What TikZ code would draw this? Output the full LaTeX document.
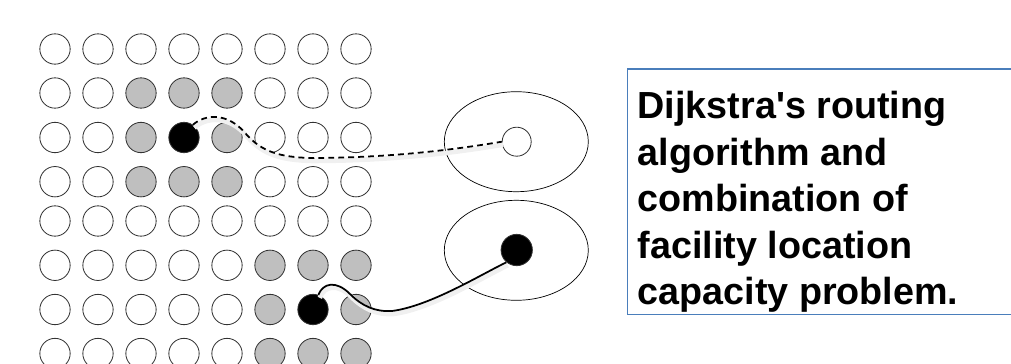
\documentclass[tikz,border=0pt]{standalone}
\usepackage{fontspec}
\newfontfamily\capfont{Liberation Sans}
\usepackage{tikz}
\definecolor{boxblue}{HTML}{4A7EBB}

\begin{document}
\begin{tikzpicture}[x=0.03cm,y=0.03cm]
\tikzstyle{every node}+=[inner sep=0pt]
\tikzstyle{site}=[circle, draw=black!80, line width=0.7pt, minimum size=0.91cm]
\tikzstyle{busy}=[site, fill=black!25]
\tikzstyle{hub}=[site, fill=black]
\tikzstyle{route}=[black, line width=1.5pt, preaction={draw=black!6, solid, line width=4pt, transform canvas={shift={(1.2pt,-2.5pt)}}}]
\clip (0,0) rectangle (1011,-363);
% grid of sites, row 1
\node [site] (c11) at (55,-49) {};
\node [site] (c12) at (98,-49) {};
\node [site] (c13) at (141,-49) {};
\node [site] (c14) at (184,-49) {};
\node [site] (c15) at (227,-49) {};
\node [site] (c16) at (270,-49) {};
\node [site] (c17) at (313,-49) {};
\node [site] (c18) at (356,-49) {};
% row 2
\node [site] (c21) at (55,-93) {};
\node [site] (c22) at (98,-93) {};
\node [busy] (c23) at (141,-93) {};
\node [busy] (c24) at (184,-93) {};
\node [busy] (c25) at (227,-93) {};
\node [site] (c26) at (270,-93) {};
\node [site] (c27) at (313,-93) {};
\node [site] (c28) at (356,-93) {};
% row 3
\node [site] (c31) at (55,-137.5) {};
\node [site] (c32) at (98,-137.5) {};
\node [busy] (c33) at (141,-137.5) {};
\node [hub] (c34) at (184,-137.5) {};
\node [busy] (c35) at (227,-137.5) {};
\node [site] (c36) at (270,-137.5) {};
\node [site] (c37) at (313,-137.5) {};
\node [site] (c38) at (356,-137.5) {};
% row 4
\node [site] (c41) at (55,-181.7) {};
\node [site] (c42) at (98,-181.7) {};
\node [busy] (c43) at (141,-181.7) {};
\node [busy] (c44) at (184,-181.7) {};
\node [busy] (c45) at (227,-181.7) {};
\node [site] (c46) at (270,-181.7) {};
\node [site] (c47) at (313,-181.7) {};
\node [site] (c48) at (356,-181.7) {};
% row 5
\node [site] (c51) at (55,-221) {};
\node [site] (c52) at (98,-221) {};
\node [site] (c53) at (141,-221) {};
\node [site] (c54) at (184,-221) {};
\node [site] (c55) at (227,-221) {};
\node [site] (c56) at (270,-221) {};
\node [site] (c57) at (313,-221) {};
\node [site] (c58) at (356,-221) {};
% row 6
\node [site] (c61) at (55,-265.3) {};
\node [site] (c62) at (98,-265.3) {};
\node [site] (c63) at (141,-265.3) {};
\node [site] (c64) at (184,-265.3) {};
\node [site] (c65) at (227,-265.3) {};
\node [busy] (c66) at (270,-265.3) {};
\node [busy] (c67) at (313,-265.3) {};
\node [busy] (c68) at (356,-265.3) {};
% row 7
\node [site] (c71) at (55,-309.5) {};
\node [site] (c72) at (98,-309.5) {};
\node [site] (c73) at (141,-309.5) {};
\node [site] (c74) at (184,-309.5) {};
\node [site] (c75) at (227,-309.5) {};
\node [busy] (c76) at (270,-309.5) {};
\node [hub] (c77) at (313,-309.5) {};
\node [busy] (c78) at (356,-309.5) {};
% row 8
\node [site] (c81) at (55,-353.5) {};
\node [site] (c82) at (98,-353.5) {};
\node [site] (c83) at (141,-353.5) {};
\node [site] (c84) at (184,-353.5) {};
\node [site] (c85) at (227,-353.5) {};
\node [busy] (c86) at (270,-353.5) {};
\node [busy] (c87) at (313,-353.5) {};
\node [busy] (c88) at (356,-353.5) {};
% the two regions
\draw [black, line width=0.6pt] (516.3,-141.7) ellipse (72 and 50);
\draw [black, line width=0.6pt] (516.3,-250.3) ellipse (72 and 50);
\node [site, minimum size=0.87cm] (sinkA) at (516.7,-141.7) {};
\node [hub, minimum size=0.94cm] (sinkB) at (516.7,-250) {};
% routes
\draw [route, dashed, dash pattern=on 5pt off 3.5pt] (c34.55) .. controls (205,-114) and (228,-112) .. (246,-134) .. controls (262,-152) and (280,-157) .. (310,-158) .. controls (400,-158) and (470,-147) .. (sinkA.west);
\draw [route] (c77.70) .. controls (323,-283) and (336,-280) .. (350,-294) .. controls (362,-306) and (375,-312) .. (392,-311) .. controls (430,-306) and (480,-275) .. (sinkB.230);
% caption box
\draw [boxblue, line width=0.9pt] (627.3,-69) rectangle (1030,-314.3);
\node [anchor=north west, align=left, font=\capfont\bfseries\fontsize{32.2}{39.7}\selectfont] (caption) at (637.5,-91) {Dijkstra's routing\\algorithm and\\combination of\\facility location\\capacity problem.};
\end{tikzpicture}
\end{document}
